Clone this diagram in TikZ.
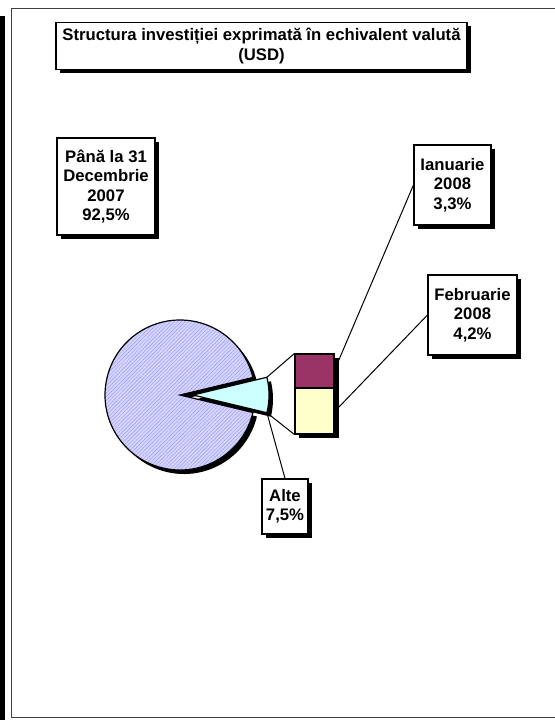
\documentclass[tikz,border=0pt]{standalone}
\usepackage{fontspec}
\setmainfont{Liberation Sans}
\usetikzlibrary{shadows,patterns.meta}
\definecolor{pief}{HTML}{D4D4FF}
\definecolor{pieh}{HTML}{A0A0EE}
\definecolor{wedgec}{HTML}{CCFFFF}
\definecolor{janc}{HTML}{993366}
\definecolor{febc}{HTML}{FFFFCC}
\begin{document}
\begin{tikzpicture}[x=1bp,y=-1bp,
  lbl/.style={draw=black, line width=1.1bp, fill=white, align=center, inner sep=0pt,
    font=\fontsize{16.7bp}{19.3bp}\selectfont\bfseries,
    drop shadow={shadow xshift=4bp, shadow yshift=-4bp, fill=black, opacity=1}},
  stackbox/.style={draw=black, line width=1.1bp, inner sep=0pt, minimum width=39bp},
  conn/.style={line width=1bp, black},
  pieline/.style={draw=black, line width=1.2bp}]
\useasboundingbox (0,0) rectangle (555,720);
\clip (0,0) rectangle (555,720);
% frame
\fill[white] (0,0) rectangle (555,720);
\draw[black!75, line width=1.3bp] (11.5,8.5) rectangle (600,717.5);
\fill[black] (0,16) rectangle (4.5,720);
% title
\node[lbl, minimum width=411bp, minimum height=47bp] (title) at (261.5,46)
  {Structura investiției exprimată în echivalent valută\\(USD)};
% pie
\coordinate (pc) at (180,395);
\coordinate (wc) at (193,395);
\fill[black] (184,399) -- ++(13.5:75) arc[start angle=13.5,end angle=346.5,radius=75] -- cycle;
\fill[black] (197,399) -- ++(-13.5:76) arc[start angle=-13.5,end angle=13.5,radius=76] -- cycle;
\fill[pief] (pc) -- ++(13.5:75) arc[start angle=13.5,end angle=346.5,radius=75] -- cycle;
\path[pattern={Lines[angle=45,distance=2.6bp,line width=0.45bp]}, pattern color=pieh]
  (pc) -- ++(13.5:75) arc[start angle=13.5,end angle=346.5,radius=75] -- cycle;
\draw[pieline] (pc) -- ++(13.5:75) arc[start angle=13.5,end angle=346.5,radius=75] -- cycle;
\draw[pieline, fill=wedgec] (wc) -- ++(-13.5:76) arc[start angle=-13.5,end angle=13.5,radius=76] -- cycle;
\path (wc) ++(-13.5:76) coordinate (wt);
\path (wc) ++(13.5:76) coordinate (wb);
% stack
\fill[black] (299,358) rectangle (339,438);
\node[stackbox, fill=janc, minimum height=34bp] (sa) at (314.5,371) {};
\node[stackbox, fill=febc, minimum height=46bp] (sb) at (314.5,411) {};
\coordinate (sj) at (338,362);
\coordinate (sf) at (338,408);
% labels
\node[lbl, minimum width=98bp, minimum height=97bp] (pana) at (106,186.5)
  {Până la 31\\Decembrie\\2007\\92,5\%};
\node[lbl, minimum width=77bp, minimum height=80bp] (jan) at (452.5,185)
  {Ianuarie\\2008\\3,3\%};
\node[lbl, minimum width=89bp, minimum height=80bp] (feb) at (472.5,315)
  {Februarie\\2008\\4,2\%};
\node[lbl, minimum width=46bp, minimum height=55bp] (alte) at (285,506.5)
  {Alte\\7,5\%};
% connectors
\draw[conn] (wt) -- (sa.north west);
\draw[conn] (wb) -- (sb.south west);
\draw[conn] (jan.west) -- (sj);
\draw[conn] (feb.west) -- (sf);
\draw[conn] (wb) -- (alte.north);
\end{tikzpicture}
\end{document}
